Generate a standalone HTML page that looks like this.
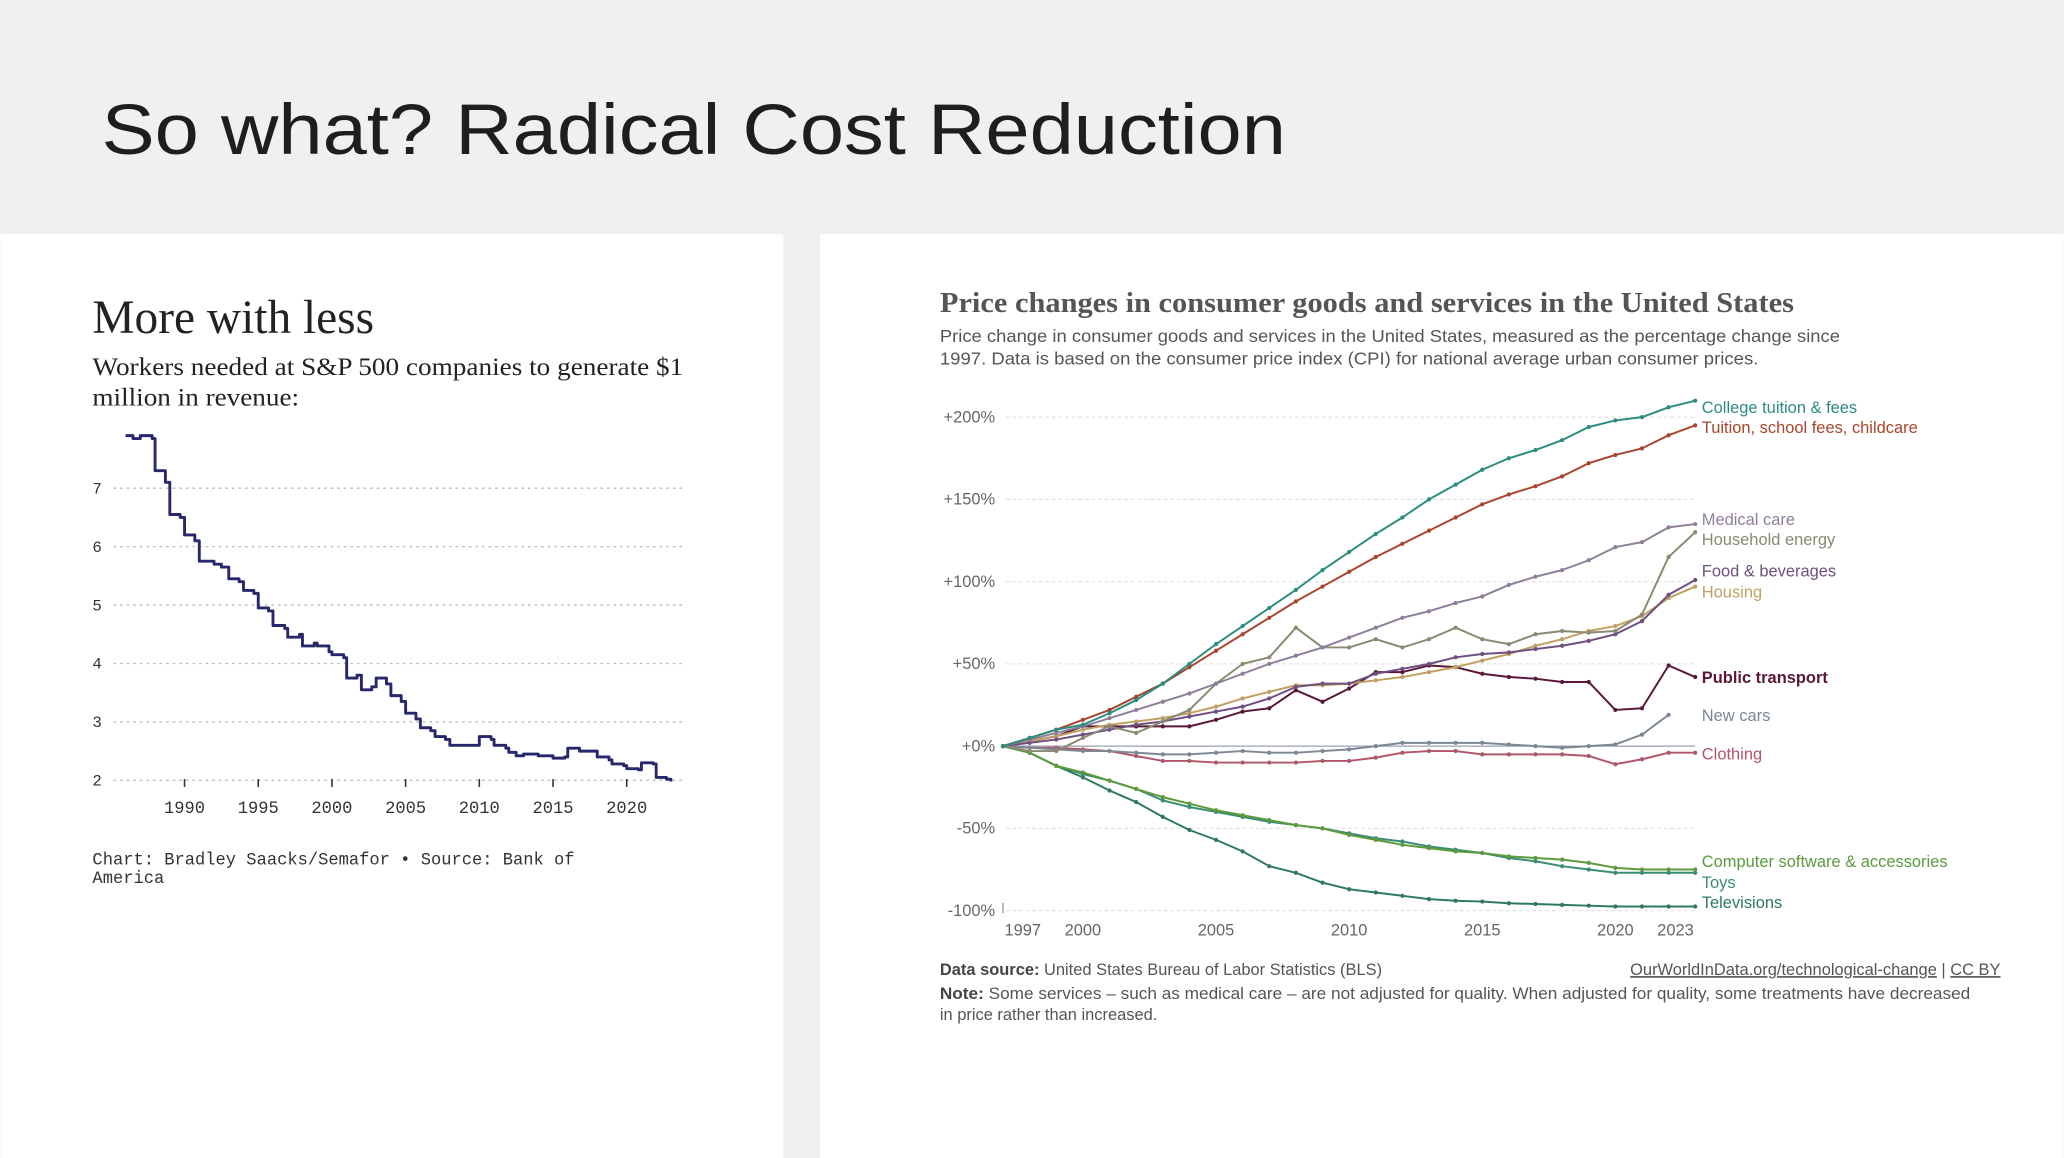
<!DOCTYPE html>
<html><head><meta charset="utf-8"><style>
html,body{margin:0;padding:0;background:#f0f0f0;}
svg{display:block;}
</style></head><body>
<svg id="root" width="2064" height="1158" viewBox="0 0 1568 880" xmlns="http://www.w3.org/2000/svg">
<rect x="0" y="0" width="1568" height="880" fill="#f0f0f0"/>
<text x="77" y="117" font-family="Liberation Sans, sans-serif" font-size="54" fill="#1e1e1e" textLength="900" lengthAdjust="spacingAndGlyphs">So what?  Radical Cost Reduction</text>
<rect x="0" y="178" width="595" height="702" fill="#ffffff"/>
<rect x="623" y="178" width="945" height="702" fill="#ffffff"/>

<text x="70" y="253" font-family="Liberation Serif, serif" font-size="36" fill="#222" textLength="214" lengthAdjust="spacingAndGlyphs">More with less</text>
<text x="70" y="285" font-family="Liberation Serif, serif" font-size="19" fill="#222" textLength="449" lengthAdjust="spacingAndGlyphs">Workers needed at S&amp;P 500 companies to generate $1</text>
<text x="70" y="308" font-family="Liberation Serif, serif" font-size="19" fill="#222" textLength="157" lengthAdjust="spacingAndGlyphs">million in revenue:</text>
<g id="left-chart"></g>
<text x="70" y="657" font-family="Liberation Mono, monospace" font-size="13" fill="#333">Chart: Bradley Saacks/Semafor • Source: Bank of</text>
<text x="70" y="671" font-family="Liberation Mono, monospace" font-size="13" fill="#333">America</text>

<text x="714" y="237" font-family="Liberation Serif, serif" font-weight="bold" font-size="22" fill="#555" textLength="649" lengthAdjust="spacingAndGlyphs">Price changes in consumer goods and services in the United States</text>
<text x="714" y="260" font-family="Liberation Sans, sans-serif" font-size="13" fill="#555" textLength="684" lengthAdjust="spacingAndGlyphs">Price change in consumer goods and services in the United States, measured as the percentage change since</text>
<text x="714" y="277" font-family="Liberation Sans, sans-serif" font-size="13" fill="#555" textLength="622" lengthAdjust="spacingAndGlyphs">1997. Data is based on the consumer price index (CPI) for national average urban consumer prices.</text>
<g id="right-chart"></g>
<text x="714" y="741" font-family="Liberation Sans, sans-serif" font-size="12.5" fill="#555"><tspan font-weight="bold" fill="#444">Data source:</tspan> United States Bureau of Labor Statistics (BLS)</text>
<text x="1520" y="741" text-anchor="end" font-family="Liberation Sans, sans-serif" font-size="12.5" fill="#555"><tspan text-decoration="underline">OurWorldInData.org/technological-change</tspan> | <tspan text-decoration="underline">CC BY</tspan></text>
<text x="714" y="759" font-family="Liberation Sans, sans-serif" font-size="12.5" fill="#555" textLength="783" lengthAdjust="spacingAndGlyphs"><tspan font-weight="bold" fill="#444">Note:</tspan> Some services – such as medical care – are not adjusted for quality. When adjusted for quality, some treatments have decreased</text>
<text x="714" y="775" font-family="Liberation Sans, sans-serif" font-size="12.5" fill="#555">in price rather than increased.</text>
</svg>
<script>
// ---- Left chart data ----
const workerYears = [1986,1986.5,1987,1987.8,1988,1988.7,1989,1989.7,1990,1990.7,1991,1992,1992.5,1993,1993.7,1994,1994.7,1995,1995.7,1996,1996.8,1997,1997.8,1998,1998.8,1999,1999.8,2000,2000.8,2001,2001.7,2002,2002.7,2003,2003.7,2004,2004.7,2005,2005.7,2006,2006.7,2007,2007.7,2008,2008.8,2009,2010,2010.8,2011,2011.8,2012,2012.5,2013,2014,2015,2015.8,2016,2016.8,2017,2018,2018.8,2019,2019.8,2020,2020.8,2021,2021.8,2022,2022.7,2023];
const workerValues = [7.9,7.85,7.9,7.85,7.3,7.1,6.55,6.5,6.2,6.1,5.75,5.7,5.65,5.45,5.4,5.25,5.2,4.95,4.9,4.65,4.6,4.45,4.5,4.3,4.35,4.3,4.2,4.15,4.1,3.75,3.8,3.55,3.6,3.75,3.65,3.45,3.35,3.15,3.05,2.9,2.85,2.75,2.7,2.6,2.6,2.6,2.75,2.7,2.6,2.55,2.48,2.42,2.45,2.42,2.38,2.4,2.55,2.5,2.5,2.4,2.35,2.28,2.25,2.2,2.18,2.3,2.28,2.05,2.02,1.98];
const leftYTicks = [2,3,4,5,6,7];
const leftXTicks = [1990,1995,2000,2005,2010,2015,2020];

// ---- Right chart data ----
const cpiYears = [1997,1998,1999,2000,2001,2002,2003,2004,2005,2006,2007,2008,2009,2010,2011,2012,2013,2014,2015,2016,2017,2018,2019,2020,2021,2022,2023];
const seriesNames = ["College tuition & fees","Tuition, school fees, childcare","Medical care","Household energy","Food & beverages","Housing","Public transport","New cars","Clothing","Computer software & accessories","Toys","Televisions"];
const collegeTuition = [0,5,10,13,20,28,38,50,62,73,84,95,107,118,129,139,150,159,168,175,180,186,194,198,200,206,210];
const schoolFees = [0,5,10,16,22,30,38,48,58,68,78,88,97,106,115,123,131,139,147,153,158,164,172,177,181,189,195];
const medicalCare = [0,4,8,12,17,22,27,32,38,44,50,55,60,66,72,78,82,87,91,98,103,107,113,121,124,133,135];
const householdEnergy = [0,-3,-3,5,12,8,15,22,38,50,54,72,60,60,65,60,65,72,65,62,68,70,69,70,80,115,130];
const foodBeverages = [0,2,4,7,10,13,15,18,21,24,29,36,38,38,44,47,50,54,56,57,59,61,64,68,76,92,101];
const housing = [0,3,6,10,13,15,17,20,24,29,33,37,37,38,40,42,45,48,52,56,61,65,70,73,79,90,97];
const publicTransport = [0,3,6,12,12,12,12,12,16,21,23,34,27,35,45,45,49,48,44,42,41,39,39,22,23,49,42];
const newCars = [0,-1,-2,-3,-3,-4,-5,-5,-4,-3,-4,-4,-3,-2,0,2,2,2,2,1,0,-1,0,1,7,19];
const clothing = [0,-1,-1,-2,-3,-6,-9,-9,-10,-10,-10,-10,-9,-9,-7,-4,-3,-3,-5,-5,-5,-5,-6,-11,-8,-4,-4];
const computerSoftware = [0,-4,-12,-16,-21,-26,-31,-35,-39,-42,-45,-48,-50,-54,-57,-60,-62,-64,-65,-67,-68,-69,-71,-74,-75,-75,-75];
const toys = [0,-4,-12,-17,-21,-26,-33,-37,-40,-43,-46,-48,-50,-53,-56,-58,-61,-63,-65,-68,-70,-73,-75,-77,-77,-77,-77];
const televisions = [0,-4,-12,-19,-27,-34,-43,-51,-57,-64,-73,-77,-83,-87,-89,-91,-93,-94,-94.5,-95.5,-96,-96.5,-97,-97.5,-97.5,-97.5,-97.5];
const rightYTicks = [-100,-50,0,50,100,150,200];
const rightYTickLabels = ["-100%","-50%","+0%","+50%","+100%","+150%","+200%"];
const rightXTicks = [1997,2000,2005,2010,2015,2020,2023];

const NS = "http://www.w3.org/2000/svg";
function mk(parent, tag, attrs){ const e=document.createElementNS(NS,tag); for(const k in attrs) e.setAttribute(k,attrs[k]); parent.appendChild(e); return e; }

// Left chart
(function(){
  const g = document.getElementById('left-chart');
  const xS = y => 140 + (y-1990)*11.2;
  const yS = v => 593 - (v-2)*44.4;
  leftYTicks.forEach(t=>{
    const l = mk(g,'line',{x1:86,x2:520,y1:yS(t),y2:yS(t),stroke:'#bbb','stroke-width':1,'stroke-dasharray':'2,3'});
    
    
    const tx = mk(g,'text',{x:70,y:yS(t)+4,'font-family':'Liberation Mono, monospace','font-size':12,fill:'#333'});
    tx.textContent = t;
    
    
  });
  leftXTicks.forEach(t=>{
    const l = mk(g,'line',{x1:xS(t),x2:xS(t),y1:592,y2:598,stroke:'#333','stroke-width':1.2});
    
    
    const tx = mk(g,'text',{x:xS(t),y:618,'text-anchor':'middle','font-family':'Liberation Mono, monospace','font-size':13,fill:'#333'});
    tx.textContent = t;
    
    
  });
  let d = '';
  workerYears.forEach((yr,i)=>{
    if(i===0){ d += 'M'+xS(yr)+','+yS(workerValues[i]); }
    else { d += ' H'+xS(yr)+' V'+yS(workerValues[i]); }
  });
  const p = mk(g,'path',{d:d,fill:'none',stroke:'#27286b','stroke-width':2.2,'stroke-linejoin':'round'});
  
  
})();

// Right chart
(function(){
  const g = document.getElementById('right-chart');
  const xS = y => 762 + (y-1997)*(1288-762)/26;
  const yS = v => 567 - v*1.25;
  rightYTicks.forEach((t,i)=>{
    const l = mk(g,'line',{x1:764,x2:1288,y1:yS(t),y2:yS(t),stroke:t===0?'#9aa0b0':'#e4e4e4','stroke-width':1,'stroke-dasharray':t===0?'':'3,2'});
    
    
    const tx = mk(g,'text',{x:756,y:yS(t)+4,'text-anchor':'end','font-family':'Liberation Sans, sans-serif','font-size':12.5,fill:'#666'});
    tx.textContent = rightYTickLabels[i];
    
    
  });
  const ax = mk(g,'line',{x1:762,x2:762,y1:686,y2:694,stroke:'#999','stroke-width':1});
  
  
  rightXTicks.forEach(t=>{
    const off = t===1997 ? 15 : (t===2023 ? -15 : 0);
    const tx = mk(g,'text',{x:xS(t)+off,y:711,'text-anchor':'middle','font-family':'Liberation Sans, sans-serif','font-size':12.5,fill:'#666'});
    tx.textContent = t;
    
    
  });
  const seriesData = [collegeTuition,schoolFees,medicalCare,householdEnergy,foodBeverages,housing,publicTransport,newCars,clothing,computerSoftware,toys,televisions];
  const colors = ['#2c8c7f','#a8452c','#8e7f99','#8a8a72','#6e4f80','#c0a062','#5a1838','#7d8794','#b0566a','#5c9a3c','#3a8c74','#2e7a5a'];
  const labelY = [310,325,395,410,434,450,515,544,573,655,671,686];
  const slug = ['college-tuition','school-fees','medical-care','household-energy','food-beverages','housing','public-transport','new-cars','clothing','computer-software','toys','televisions'];
  seriesData.slice().reverse().forEach((vals,ri)=>{
    const i = seriesData.length-1-ri;
    const pts = vals.map((v,k)=>xS(cpiYears[k])+','+yS(v)).join(' ');
    const pl = mk(g,'polyline',{points:pts,fill:'none',stroke:colors[i],'stroke-width':1.5,'stroke-linejoin':'round'});
    
    
    vals.forEach((v,k)=>{
      const c = mk(g,'circle',{cx:xS(cpiYears[k]),cy:yS(v),r:1.6,fill:colors[i]});
      
      
    });
  });
  seriesNames.forEach((n,i)=>{
    const tx = mk(g,'text',{x:1293,y:labelY[i]+4,'font-family':'Liberation Sans, sans-serif','font-size':12.5,fill:colors[i]});
    if(i===6) tx.setAttribute('font-weight','bold');
    tx.textContent = n;
    
    
  });
})();
</script>
</body></html>
